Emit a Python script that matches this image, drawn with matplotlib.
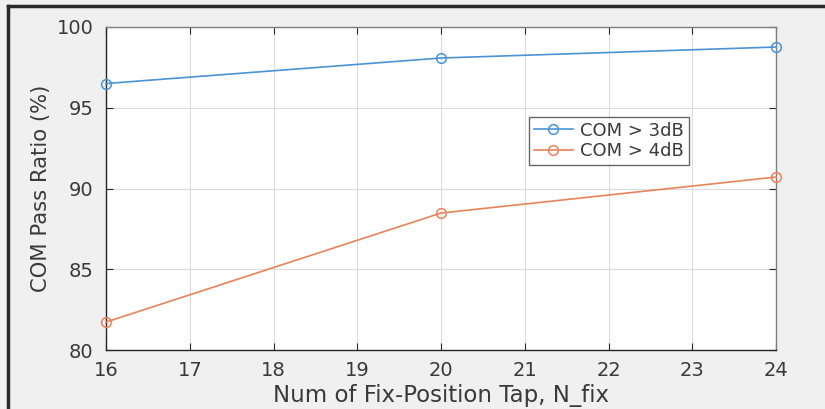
import matplotlib

matplotlib.use("Agg")
import matplotlib.pyplot as plt
from matplotlib.lines import Line2D

# data
n_fix = [16, 20, 24]
pass_3db = [96.5, 98.08, 98.76]
pass_4db = [81.73, 88.48, 90.71]
series_labels = ["COM > 3dB", "COM > 4dB"]

x_ticks = [16, 17, 18, 19, 20, 21, 22, 23, 24]
y_ticks = [80, 85, 90, 95, 100]

BLUE = "#4a93d6"
ORANGE = "#e8835a"
TEXT = "#3a3a3a"

plt.rcParams["font.family"] = ["DejaVu Sans"]

fig = plt.figure(figsize=(8.25, 4.09), dpi=100, facecolor="#f0f0f0")
ax = fig.add_axes([106 / 825, 1 - 350 / 409, 670 / 825, 323 / 409])
ax.set_facecolor("white")

ax.plot(n_fix, pass_3db, color=BLUE, linewidth=1.2, marker="o",
        markersize=7, markerfacecolor="none", markeredgewidth=1.1,
        label=series_labels[0], clip_on=False, zorder=3)
ax.plot(n_fix, pass_4db, color=ORANGE, linewidth=1.2, marker="o",
        markersize=7, markerfacecolor="none", markeredgewidth=1.1,
        label=series_labels[1], clip_on=False, zorder=3)

ax.set_xlim(16, 24)
ax.set_ylim(80, 100)
ax.set_xticks(x_ticks)
ax.set_yticks(y_ticks)
ax.grid(True, color="#dcdcdc", linewidth=0.8)
ax.set_axisbelow(True)
ax.tick_params(direction="in", top=True, right=True, length=5,
               labelsize=14, colors="#262626", labelcolor=TEXT)
ax.tick_params(axis="x", pad=8)
ax.tick_params(axis="y", pad=9)

for side in ["left", "bottom"]:
    ax.spines[side].set_color("#262626")
    ax.spines[side].set_linewidth(1.0)
for side in ["top", "right"]:
    ax.spines[side].set_color("#808080")
    ax.spines[side].set_linewidth(1.0)

ax.set_xlabel("Num of Fix-Position Tap, N_fix", fontsize=16.5, color=TEXT,
              labelpad=3)
ax.set_ylabel("COM Pass Ratio (%)", fontsize=15.2, color=TEXT, labelpad=4)

leg = ax.legend(loc="upper left", bbox_to_anchor=(423 / 670, 1 - 90 / 323),
                fontsize=13, frameon=True, fancybox=False,
                handlelength=2.2, handletextpad=0.4, borderpad=0.25,
                labelspacing=0.15, borderaxespad=0)
leg.get_frame().set_edgecolor("#404040")
leg.get_frame().set_linewidth(1.0)
for t in leg.get_texts():
    t.set_color(TEXT)

# dark frame lines at the top and left of the screenshot
fig.add_artist(Line2D([8 / 825, 1], [1 - 6 / 409, 1 - 6 / 409],
                      color="#2a2a2a", linewidth=2.5))
fig.add_artist(Line2D([8 / 825, 8 / 825], [0, 1 - 6 / 409],
                      color="#2a2a2a", linewidth=2.5))

fig.savefig("out.png", dpi=100, facecolor=fig.get_facecolor())
